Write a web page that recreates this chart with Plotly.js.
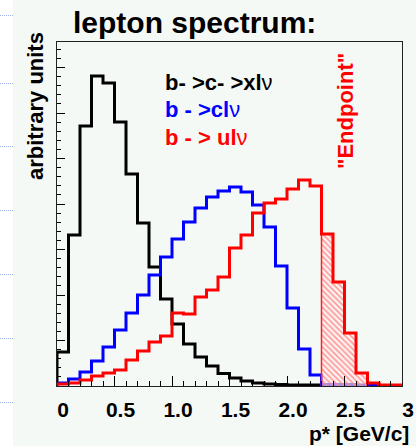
<!DOCTYPE html>
<html>
<head>
<meta charset="utf-8">
<script src="https://cdn.plot.ly/plotly-3.0.1.min.js"></script>
<style>
  html, body { margin:0; padding:0; width:416px; height:446px; overflow:hidden;
    background: linear-gradient(to right, #ffffff 13px, #f5f9f6 13px); }
  #chart { position:absolute; left:0; top:0; width:416px; height:446px; }
  .dots { position:absolute; left:0; width:13px; height:0; border-top:1px dotted #9fb2e6; }
</style>
</head>
<body>
<div class="dots" style="top:15px"></div>
<div class="dots" style="top:83px"></div>
<div class="dots" style="top:146px"></div>
<div class="dots" style="top:210px"></div>
<div class="dots" style="top:274px"></div>
<div class="dots" style="top:338px"></div>
<div class="dots" style="top:402px"></div>
<div id="chart"></div>
<script>
// bin edges of p* [GeV/c]
const binEdges = [0.0,0.1,0.2,0.3,0.4,0.5,0.6,0.7,0.8,0.9,1.0,1.1,1.2,1.3,1.4,1.5,1.6,1.7,1.8,1.9,2.0,2.1,2.2,2.3,2.4,2.5,2.6,2.7,2.8,2.9,3.0];
// b -> c -> X l nu
const blackVals = [34,151,260,310,303,264,212,163,119,87,62,42,29,20,12.5,8,5,3,2,1.5,1,1,1,0.8,0.6,0.5,0.4,0.3,0.2,0.2];
// b -> c l nu
const blueVals = [3,7,14,25,39,56,73,91,111,129,147,164,178,189,195,199,194,181,159,120,78,37,11,1.5,1.5,1.5,1,0.5,0,0];
// b -> u l nu
const redVals = [2,3,6,10,13,16,26,35,44,50,73,72,89,96,109,138,151,173,183,187,197,206,200,152,104,53,13,3,1,1];
// endpoint region (bin indices)
const endFirst = 23, endLast = 26;
const xTickVals = [0,0.5,1.0,1.5,2.0,2.5,3.0];
const xTickText = ["0","0.5","1.0","1.5","2.0","2.5","3"];

const FONT = '"Liberation Sans", Arial, Helvetica, sans-serif';

function histTrace(vals, color, w) {
  const x = [binEdges[0]].concat(binEdges);
  const y = [0].concat(vals, [vals[vals.length-1]]);
  return {x:x, y:y, type:'scatter', mode:'lines', line:{shape:'hv', color:color, width:w}, hoverinfo:'skip', showlegend:false};
}

// hatched endpoint region
const hx = [binEdges[endFirst]], hy = [0];
for (let i = endFirst; i <= endLast; i++) { hx.push(binEdges[i]); hy.push(redVals[i]); }
hx.push(binEdges[endLast+1]); hy.push(redVals[endLast]);
hx.push(binEdges[endLast+1]); hy.push(0);
const hatch = {x:hx, y:hy, type:'scatter', mode:'lines', fill:'toself',
  line:{shape:'hv', color:'#ff2020', width:1.5},
  fillcolor:'rgba(255,225,225,0.6)',
  fillpattern:{shape:'\\', fgcolor:'#ff8c8c', bgcolor:'rgba(255,235,235,0.6)', size:4, solidity:0.35},
  hoverinfo:'skip', showlegend:false};

const data = [
  histTrace(blackVals, '#000000', 3),
  histTrace(blueVals, '#0000ff', 3),
  hatch,
  histTrace(redVals, '#ff0000', 3)
];

const L = 57, R = 402, T = 42, B = 386;
const px = v => (v - L) / (R - L);
const py = v => (B - v) / (B - T);

const layout = {
  width:416, height:446,
  margin:{l:L, r:416-R, t:T, b:446-B, pad:0},
  paper_bgcolor:'rgba(0,0,0,0)',
  plot_bgcolor:'#f5f9f6',
  showlegend:false,
  title:{text:'lepton spectrum:', font:{family:FONT, size:30, weight:'bold', color:'#000'},
    x:73/416, xanchor:'left', xref:'container', y:1-22.5/446, yanchor:'middle', yref:'container'},
  xaxis:{range:[0,3], tickmode:'array', tickvals:xTickVals, ticktext:xTickText,
    ticks:'inside', ticklen:10, tickwidth:1, tickcolor:'#000',
    minor:{dtick:0.1, tick0:0, ticks:'inside', ticklen:5, tickwidth:1, tickcolor:'#000'},
    showgrid:false, zeroline:false, showline:true, mirror:true, linecolor:'#222', linewidth:1,
    tickfont:{family:FONT, size:21, weight:'bold', color:'#000'},
    ticklabelshift:6, ticklabelstandoff:5, fixedrange:true},
  yaxis:{range:[0, B-T], tick0:0, dtick:45.5, showticklabels:false,
    ticks:'inside', ticklen:8, tickwidth:1, tickcolor:'#000',
    minor:{dtick:9.1, tick0:0, ticks:'inside', ticklen:4, tickwidth:1, tickcolor:'#000'},
    showgrid:false, zeroline:false, showline:true, mirror:true, linecolor:'#222', linewidth:1, fixedrange:true},
  annotations:[
    {text:'arbitrary units', textangle:-90, xref:'paper', yref:'paper', x:px(35), y:py(106),
      xanchor:'center', yanchor:'middle', showarrow:false, font:{family:FONT, size:22, weight:'bold', color:'#000'}},
    {text:'p* [GeV/c]', xref:'paper', yref:'paper', x:px(411), y:py(433),
      xanchor:'right', yanchor:'middle', showarrow:false, font:{family:FONT, size:21, weight:'bold', color:'#000'}},
    {text:'<b>b- &gt;c- &gt;xl</b>ν', xref:'paper', yref:'paper', x:px(163), y:py(82),
      xanchor:'left', yanchor:'middle', showarrow:false, font:{family:FONT, size:22, color:'#000'}},
    {text:'<b>b - &gt;cl</b>ν', xref:'paper', yref:'paper', x:px(163), y:py(109),
      xanchor:'left', yanchor:'middle', showarrow:false, font:{family:FONT, size:22, color:'#0000ff'}},
    {text:'<b>b - &gt; ul</b>ν', xref:'paper', yref:'paper', x:px(163), y:py(137),
      xanchor:'left', yanchor:'middle', showarrow:false, font:{family:FONT, size:22, color:'#ff0000'}},
    {text:'"Endpoint"', textangle:-90, xref:'paper', yref:'paper', x:px(345), y:py(111),
      xanchor:'center', yanchor:'middle', showarrow:false, font:{family:FONT, size:22, weight:'bold', color:'#ff0000'}}
  ]
};

Plotly.newPlot('chart', data, layout, {staticPlot:true, displayModeBar:false});
</script>
</body>
</html>
